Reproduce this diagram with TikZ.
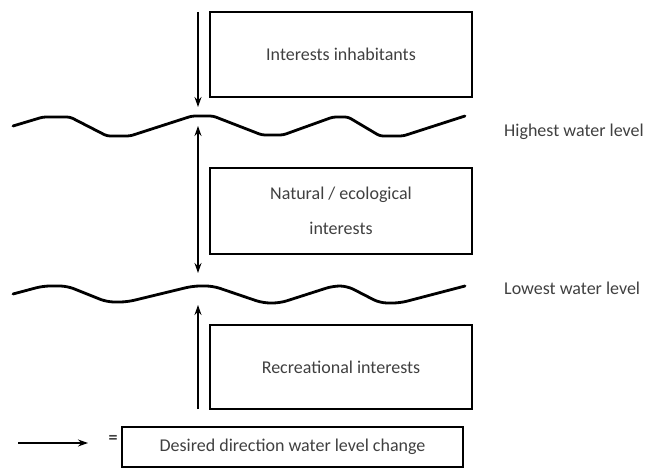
\documentclass[tikz,border=0pt]{standalone}
\usepackage{fontspec}
\setmainfont{Carlito}
\usepackage{tikz}
\usetikzlibrary{positioning,arrows.meta}
\definecolor{textgrey}{HTML}{404040}

\begin{document}
\begin{tikzpicture}[
        x=1pt, y=-1pt,
        every node/.style={
            text=textgrey,
            align=center,
            font=\fontsize{18}{35}\selectfont
        },
        box/.style={
            rectangle,
            draw=black,
            line width=2.6pt,
            minimum width=262pt,
            minimum height=85pt
        },
        arrow/.style={
            ->,
            >={Stealth[length=10pt,width=7pt]},
            line width=1.3pt,
            color=black
        },
        wave/.style={
            line width=2.8pt,
            line join=round,
            line cap=round
        },
        note/.style={
            anchor=west,
            inner sep=0pt
        }
    ]
        \useasboundingbox (0,0) rectangle (657,468);

        \node[box] (inhab) at (341,54.5) {Interests inhabitants};
        \node[box, minimum height=86pt] (nature) at (341,211) {Natural / ecological\\interests};
        \node[box, minimum height=84pt] (recre) at (341,367) {Recreational interests};
        \node[box, minimum width=341pt, minimum height=40pt] (legend) at (292.5,447) {Desired direction water level change};

        % water levels
        \draw[wave, rounded corners=3pt] (13,126) -- (43,117) -- (70,117) -- (107,136) -- (130,136)
            -- (192,116) -- (213,116) -- (262,135) -- (283,135) -- (333,117) -- (348,117)
            -- (380,136) -- (403,136) -- (465,116);
        \draw[wave, rounded corners=7pt] (13,294) -- (43,286) -- (67,286) -- (107,302) -- (127,302)
            -- (193,286) -- (213,286) -- (263,303) -- (280,303) -- (333,286) -- (347,286)
            -- (380,303) -- (400,303) -- (465,286);

        \node[note] (high) at (504,132) {Highest water level};
        \node[note] (low) at (504,288) {Lowest water level};

        % directions
        \coordinate (a1) at (198,12);
        \coordinate (a2) at (198,107);
        \coordinate (b1) at (198,126);
        \coordinate (b2) at (198,273);
        \coordinate (c1) at (198,409);
        \coordinate (c2) at (198,305);
        \coordinate (l1) at (18,443);
        \coordinate (l2) at (88,443);

        \draw[arrow] (a1) -- (a2);
        \draw[arrow, <->] (b1) -- (b2);
        \draw[arrow] (c1) -- (c2);
        \draw[arrow] (l1) -- (l2);
        \node[font=\bfseries\fontsize{18}{18}\selectfont, inner sep=0pt] (eq) at (113,439) {=};
    \end{tikzpicture}
\end{document}
